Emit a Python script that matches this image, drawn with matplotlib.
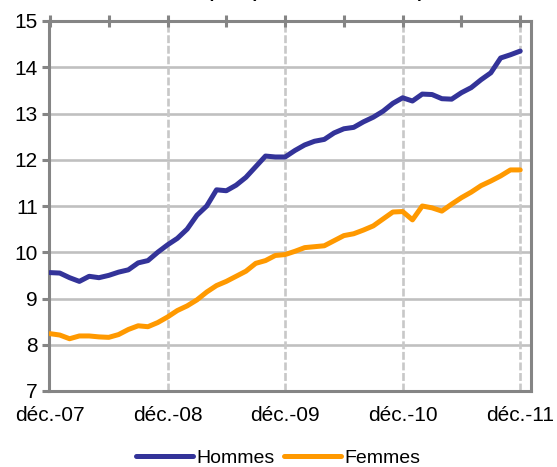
import matplotlib
matplotlib.use("Agg")
import matplotlib.pyplot as plt

plt.rcParams['font.family'] = ['Liberation Sans', 'DejaVu Sans']

# Monthly data, déc. 2007 -> déc. 2011 (49 months)
months = list(range(49))
hommes = [9.56, 9.55, 9.45, 9.37, 9.48, 9.45, 9.50, 9.57, 9.62, 9.77,
          9.82, 10.00, 10.16, 10.30, 10.50, 10.80, 11.00, 11.35, 11.33, 11.45,
          11.62, 11.85, 12.08, 12.06, 12.06, 12.20, 12.32, 12.40, 12.44, 12.58,
          12.67, 12.70, 12.82, 12.92, 13.05, 13.22, 13.34, 13.27, 13.42, 13.41,
          13.32, 13.31, 13.45, 13.56, 13.73, 13.88, 14.20, 14.27, 14.35]
femmes = [8.24, 8.21, 8.13, 8.19, 8.19, 8.17, 8.16, 8.22, 8.33, 8.41,
          8.39, 8.48, 8.60, 8.74, 8.84, 8.97, 9.14, 9.28, 9.37, 9.48,
          9.59, 9.76, 9.82, 9.93, 9.95, 10.02, 10.10, 10.12, 10.14, 10.25,
          10.36, 10.40, 10.48, 10.57, 10.72, 10.87, 10.88, 10.70, 11.00, 10.96,
          10.89, 11.04, 11.18, 11.30, 11.44, 11.54, 11.65, 11.78, 11.78]
tick_months = [0, 6, 12, 18, 24, 30, 36, 42, 48]
year_months = [0, 12, 24, 36, 48]
year_labels = ['déc.-07', 'déc.-08', 'déc.-09', 'déc.-10', 'déc.-11']
y_ticks = [7, 8, 9, 10, 11, 12, 13, 14, 15]
title = "50 ans et plus (ancienneté en mois)"

fig = plt.figure(figsize=(5.57, 4.67), dpi=100)
ax = fig.add_axes([49/557, (467-391)/467, (531-49)/557, (391-21)/467])

ax.set_xlim(-0.1, 49.1)
ax.set_ylim(7, 15)

# grid
for yv in y_ticks[1:-1]:
    ax.axhline(yv, color='#c0c0c0', lw=1.9, zorder=1)
for xm in year_months[1:]:
    ax.axvline(xm, color='#c8c8c8', lw=1.9, ls=(0, (3, 1)), zorder=1)

ax.plot(months, hommes, color='#333399', lw=3.6, label='Hommes', zorder=3,
        solid_capstyle='round', solid_joinstyle='round')
ax.plot(months, femmes, color='#FF9900', lw=3.6, label='Femmes', zorder=3,
        solid_capstyle='round', solid_joinstyle='round')

for s in ax.spines.values():
    s.set_color('#858585')
    s.set_linewidth(2.2)

ax.set_yticks(y_ticks)
ax.set_xticks(tick_months)
lbl = {m: l for m, l in zip(year_months, year_labels)}
ax.set_xticklabels([lbl.get(m, '') for m in tick_months])
ax.tick_params(axis='x', bottom=False, top=True, labelbottom=True, labeltop=False,
               direction='inout', length=9, width=2.2, color='#858585',
               labelsize=15, pad=6)
ax.tick_params(axis='y', direction='out', length=5, width=2.2, color='#858585',
               labelsize=15, pad=3)

fig.text(0.497, 467 and 1.0 + 2/467, title, ha='center', va='baseline',
         fontsize=12.5, fontweight='bold')

fig.legend(loc='center', bbox_to_anchor=(0.5, (467-458)/467), ncol=2, frameon=False,
           fontsize=14, handlelength=2.9, handletextpad=0.2, columnspacing=0.5,
           borderaxespad=0)

fig.savefig('out.png', dpi=100)
